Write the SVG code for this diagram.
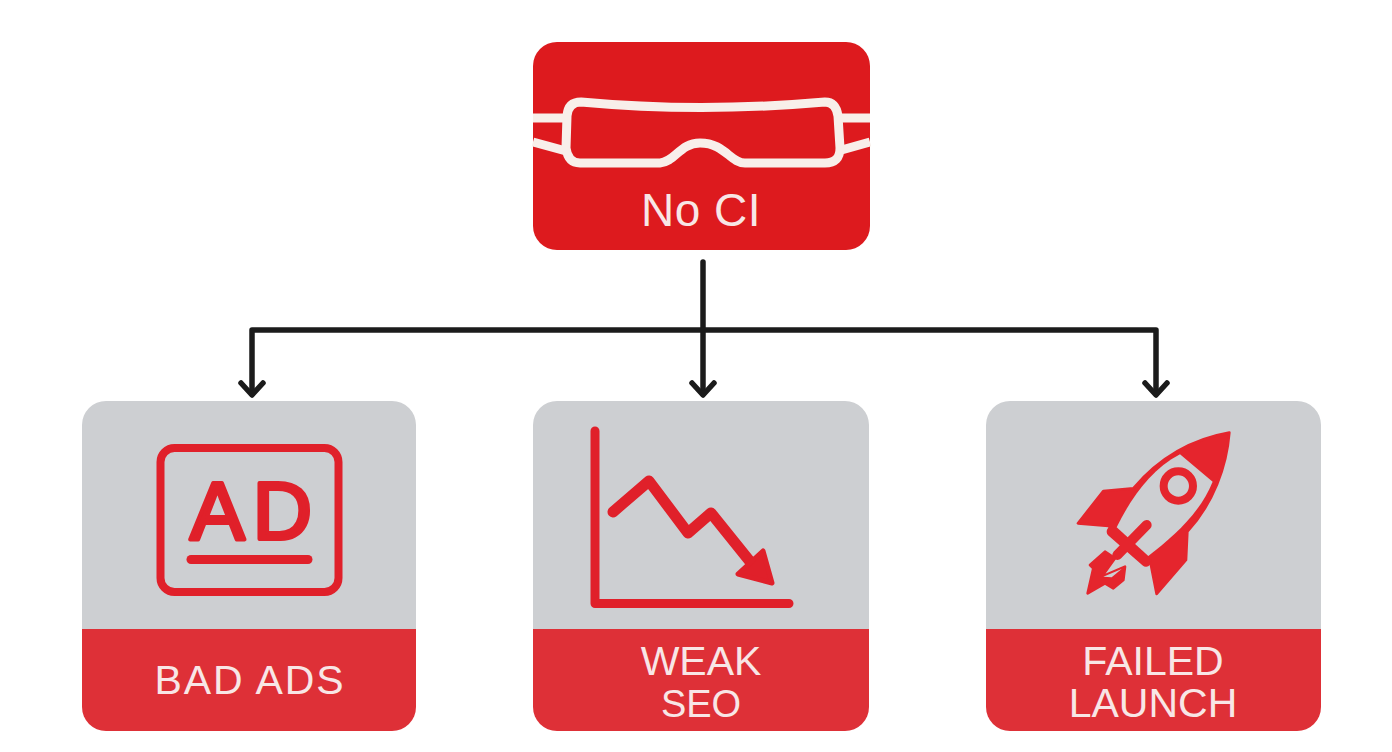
<svg xmlns="http://www.w3.org/2000/svg" width="1392" height="752" viewBox="0 0 1392 752">
<style>
.lbl{font-family:"Liberation Sans",Arial,sans-serif;fill:#f8e6e6;font-size:41px;text-anchor:middle}
.band{fill:#de3037}
.card{fill:#cdcfd2}
.ic{fill:none;stroke:#e0202a;stroke-linecap:round;stroke-linejoin:round}
.conn{fill:none;stroke:#1b1b1b;stroke-width:5.500;stroke-linecap:round;stroke-linejoin:round}
.gog{fill:none;stroke:#f8efea;stroke-width:9;stroke-linejoin:round}
</style>
<rect width="1392" height="752" fill="#ffffff"/>
<g id="connectors">
<path class="conn" d="M703 262V394"/>
<path class="conn" d="M252 394V330H1156V394"/>
<path class="conn" d="M241 383L252 395L263 383M692 383L703 395L714 383M1145 383L1156 395L1167 383"/>
</g>
<g id="node-no-ci">
<rect x="533" y="42" width="337" height="208" rx="24" fill="#dd1a1e"/>
<path class="gog" d="M533 118H566M533 142L566 151M838 118H870M838 151L870 142"/>
<path class="gog" d="M581 102Q700 113 825 102Q836 102 838 116L840 148Q840 163 825 163H745C730 163 725 143 700 143C680 143 675 162 660 163H580Q568 163 566 148L567 116Q568 102 581 102Z"/>
<text x="701" y="226" class="lbl" style="font-size:46px;letter-spacing:.5px">No CI</text>
</g>
<g id="node-bad-ads">
<path class="card" d="M82 629V425a24 24 0 0 1 24-24H392a24 24 0 0 1 24 24V629Z"/>
<path class="band" d="M82 629H416V707a24 24 0 0 1-24 24H106a24 24 0 0 1-24-24Z"/>
<rect x="160.500" y="448" width="178" height="144" rx="14" class="ic" stroke-width="8"/>
<text x="255" y="539" text-anchor="middle" style="font-family:'Liberation Sans',Arial,sans-serif;font-size:82px;letter-spacing:8px" fill="#e0202a" stroke="#e0202a" stroke-width="4" stroke-linejoin="round">AD</text>
<path class="ic" stroke-width="9" d="M191 559.500H308"/>
<text x="250" y="694" class="lbl" style="letter-spacing:1.900px">BAD ADS</text>
</g>
<g id="node-weak-seo">
<path class="card" d="M533 629V425a24 24 0 0 1 24-24H845a24 24 0 0 1 24 24V629Z"/>
<path class="band" d="M533 629H869V707a24 24 0 0 1-24 24H557a24 24 0 0 1-24-24Z"/>
<path class="ic" stroke-width="9" d="M595 431V603.500H789"/>
<path class="ic" stroke-width="11" d="M613 512L649 481L688 533L711 513L752 564"/>
<path d="M763 551L772 583L738 574Z" fill="#e0202a" stroke="#e0202a" stroke-width="5" stroke-linejoin="round"/>
<text x="701" y="675" class="lbl">WEAK</text>
<text x="701" y="717" class="lbl" style="font-size:38px">SEO</text>
</g>
<g id="node-failed-launch">
<path class="card" d="M986 629V425a24 24 0 0 1 24-24H1297a24 24 0 0 1 24 24V629Z"/>
<path class="band" d="M986 629H1321V707a24 24 0 0 1-24 24H1010a24 24 0 0 1-24-24Z"/>
<g transform="translate(1040 420) scale(.3333)">
<path fill="#e5252d" stroke="#e5252d" stroke-width="8" stroke-linejoin="round" d="M568 38C470 55 370 100 280 205L190 213L114 310L205 318L330 420L350 522L438 420L442 335C520 250 560 140 568 38Z"/>
<path fill="#cdcfd2" d="M420 103L518 185C480 280 400 350 325 408L230 322C270 240 330 150 420 103Z"/>
<circle cx="415" cy="198" r="44" fill="none" stroke="#e5252d" stroke-width="24"/>
<path fill="none" stroke="#e5252d" stroke-width="30" stroke-linecap="round" d="M320 315L232 405M215 335L318 425"/>
<path fill="#e5252d" stroke="#e5252d" stroke-width="8" stroke-linejoin="round" d="M195 395L225 415L185 470L255 440L250 480L220 505L195 490L143 520L160 445L150 435Z"/>
<path fill="#cdcfd2" d="M190 470L245 447L215 472Z"/>
</g>
<text x="1153" y="675" class="lbl">FAILED</text>
<text x="1153" y="717" class="lbl">LAUNCH</text>
</g>
</svg>
